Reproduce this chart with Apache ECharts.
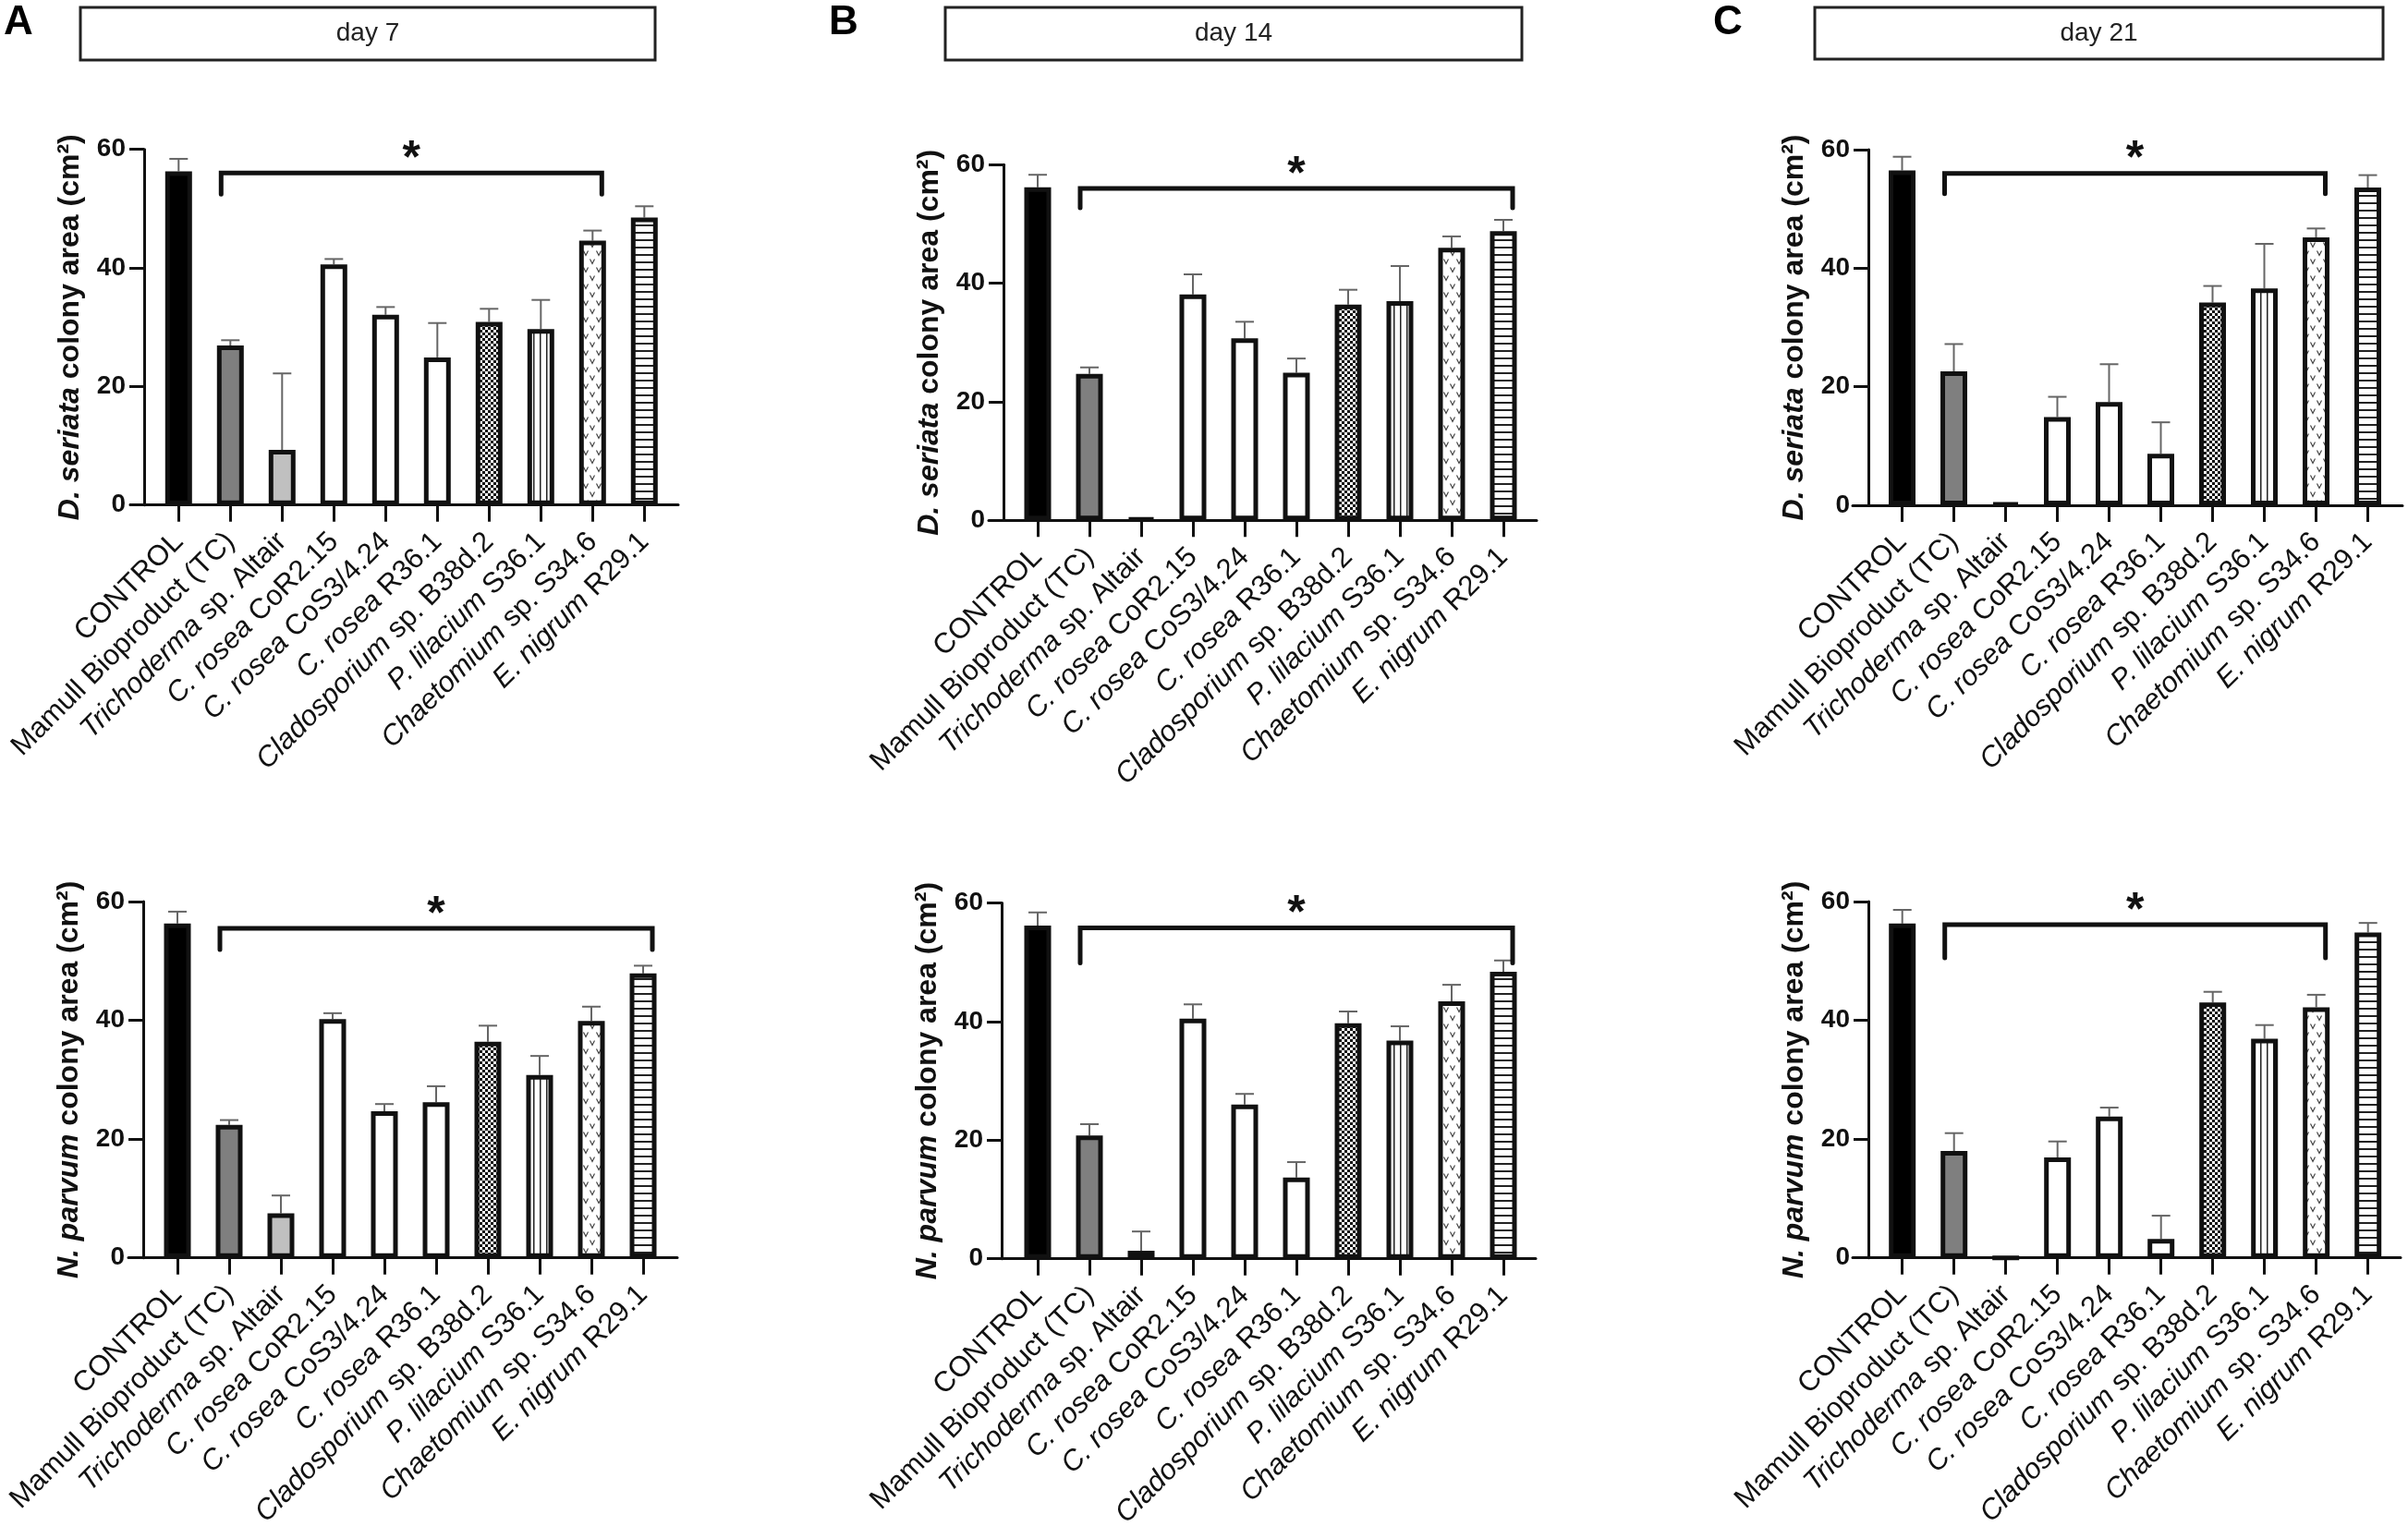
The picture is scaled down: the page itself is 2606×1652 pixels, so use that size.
<!DOCTYPE html>
<html>
<head>
<meta charset="utf-8">
<script src="https://cdn.jsdelivr.net/npm/echarts@6/dist/echarts.min.js"></script>
<style>
html,body{margin:0;padding:0;background:#fff;}
#chart{width:2606px;height:1652px;}
</style>
</head>
<body>
<div id="chart"></div>
<script>
// ---------------- DATA ----------------
const categories = ['CONTROL', 'Mamull Bioproduct (TC)', 'Trichoderma sp. Altair', 'C. rosea CoR2.15',
  'C. rosea CoS3/4.24', 'C. rosea R36.1', 'Cladosporium sp. B38d.2', 'P. lilacium S36.1',
  'Chaetomium sp. S34.6', 'E. nigrum R29.1'];
const italicParts = ['', '', 'Trichoderma', 'C. rosea', 'C. rosea', 'C. rosea', 'Cladosporium', 'P. lilacium', 'Chaetomium', 'E. nigrum'];
const dayTitles = ['day 7', 'day 14', 'day 21'];
const panelLetters = ['A', 'B', 'C'];
const pathogenNames = ['D. seriata', 'N. parvum'];
const yTickInterval = 20;
const yMax = 60;

// D. seriata colony area (cm2) - mean and upper SD
const dsDay7Mean  = [56.3, 26.9, 9.3, 40.6, 32.1, 24.9, 30.9, 29.7, 44.6, 48.5];
const dsDay7Sd    = [2.1, 0.9, 12.9, 0.9, 1.3, 5.8, 2.2, 4.9, 1.7, 1.9];
const dsDay14Mean = [56.2, 24.7, 0.3, 38.1, 30.7, 24.9, 36.4, 37.0, 46.0, 48.8];
const dsDay14Sd   = [2.1, 1.1, 0, 3.4, 2.8, 2.4, 2.5, 5.9, 1.9, 1.9];
const dsDay21Mean = [56.5, 22.6, 0.3, 14.9, 17.4, 8.7, 34.2, 36.6, 45.2, 53.6];
const dsDay21Sd   = [2.3, 4.6, 0, 3.4, 6.4, 5.3, 2.8, 7.5, 1.5, 2.1];
// N. parvum colony area (cm2)
const npDay7Mean  = [56.3, 22.4, 7.5, 40.2, 24.7, 26.2, 36.4, 30.8, 39.9, 47.9];
const npDay7Sd    = [2.0, 0.8, 3.0, 1.0, 1.2, 2.7, 2.7, 3.2, 2.4, 1.3];
const npDay14Mean = [56.2, 20.8, 1.35, 40.5, 26.0, 13.7, 39.7, 36.8, 43.4, 48.4];
const npDay14Sd   = [2.2, 1.9, 3.25, 2.4, 1.8, 2.6, 2.0, 2.4, 2.8, 1.9];
const npDay21Mean = [56.3, 18.0, 0, 16.9, 23.8, 3.2, 43.0, 36.9, 42.2, 54.8];
const npDay21Sd   = [2.3, 3.0, 0, 2.7, 1.5, 3.9, 1.8, 2.3, 2.1, 1.6];

// significance brackets: start index, end index, height (cm2)
const bracketStart = [1, 1, 1, 1, 1, 1];
const bracketEnd   = [8, 9, 8, 9, 9, 8];
const bracketLevel = [56.0, 56.0, 56.0, 55.5, 55.8, 56.1];
const bracketMark = '*';

const panelMeans = [dsDay7Mean, dsDay14Mean, dsDay21Mean, npDay7Mean, npDay14Mean, npDay21Mean];
const panelSds   = [dsDay7Sd, dsDay14Sd, dsDay21Sd, npDay7Sd, npDay14Sd, npDay21Sd];

// ---------------- LAYOUT (pixels) ----------------
const step = 56;
const layout = [
  {xStart:141,  c0:193.3,  xEnd:734,  yAxisX:156,  top:161.7, bottom:546.7,  drop:23},
  {xStart:1070, c0:1123,   xEnd:1663, yAxisX:1086, top:178.3, bottom:563.3,  drop:21},
  {xStart:2005, c0:2058.5, xEnd:2600, yAxisX:2022, top:162,   bottom:547,    drop:22},
  {xStart:139,  c0:192,    xEnd:733,  yAxisX:155,  top:976,   bottom:1361.7, drop:23},
  {xStart:1070, c0:1123,   xEnd:1662, yAxisX:1084, top:977.5, bottom:1362.7, drop:38},
  {xStart:2005, c0:2058.7, xEnd:2598, yAxisX:2022, top:976,   bottom:1361.7, drop:36}
];
const titleBoxes = [
  {x:87, y:8, w:622, h:57, letterX:4},
  {x:1023, y:8, w:624, h:57, letterX:897},
  {x:1964, y:8, w:615, h:56, letterX:1854}
];

// ---------------- PATTERNS ----------------
function makeCanvas(w, h, draw) {
  const c = document.createElement('canvas');
  c.width = w; c.height = h;
  const ctx = c.getContext('2d');
  ctx.fillStyle = '#fff'; ctx.fillRect(0, 0, w, h);
  draw(ctx);
  return c;
}
const checker = makeCanvas(6, 6, ctx => { ctx.fillStyle = '#111'; ctx.fillRect(0,0,3,3); ctx.fillRect(3,3,3,3); });
const vlines = makeCanvas(7, 8, ctx => { ctx.fillStyle = '#222'; ctx.fillRect(3, 0, 1.5, 8); });
const hlines = makeCanvas(8, 8, ctx => { ctx.fillStyle = '#222'; ctx.fillRect(0, 3, 8, 2); });
const vmarks = makeCanvas(14, 18, ctx => {
  ctx.strokeStyle = '#444'; ctx.lineWidth = 1.2;
  const v = (cx, cy) => { ctx.beginPath(); ctx.moveTo(cx-2.5, cy-2.5); ctx.lineTo(cx, cy+2.5); ctx.lineTo(cx+2.5, cy-2.5); ctx.stroke(); };
  v(4, 4); v(11, 13);
});
const fillStyles = [
  '#000000', '#7f7f7f', '#c0c0c0', '#ffffff', '#ffffff', '#ffffff',
  {image: checker, repeat: 'repeat'},
  {image: vlines, repeat: 'repeat'},
  {image: vmarks, repeat: 'repeat'},
  {image: hlines, repeat: 'repeat'}
];

// ---------------- OPTION ----------------
const FONT = "'Liberation Sans', Arial, Helvetica, sans-serif";
const idx = categories.map((_, i) => i);
const grids = [], xAxes = [], yAxes = [], series = [], graphics = [];

layout.forEach((L, k) => {
  const c9 = L.c0 + 9 * step;
  grids.push({left: L.xStart, top: L.top, width: L.xEnd - L.xStart, height: L.bottom - L.top,
              containLabel: false, outerBoundsMode: 'none'});
  xAxes.push({
    type: 'value', gridIndex: k,
    min: -(L.c0 - L.xStart) / step, max: 9 + (L.xEnd - c9) / step,
    axisLine: {show: true, onZero: false, lineStyle: {color: '#111', width: 3}},
    axisTick: {show: true, customValues: idx, length: 18, lineStyle: {color: '#111', width: 3}},
    splitLine: {show: false},
    axisLabel: {
      customValues: idx, rotate: 45, margin: 35, color: '#111',
      formatter: v => {
        const i = Math.round(v); const name = categories[i]; const it = italicParts[i];
        if (!it) return '{n|' + name + '}';
        return '{i|' + it + '}{n|' + name.slice(it.length) + '}';
      },
      rich: {
        n: {fontSize: 31, fontFamily: FONT, color: '#111'},
        i: {fontSize: 31, fontFamily: FONT, fontStyle: 'italic', color: '#111'}
      }
    }
  });
  yAxes.push({
    type: 'value', gridIndex: k, min: 0, max: yMax, interval: yTickInterval,
    offset: -(L.yAxisX - L.xStart),
    axisLine: {show: true, onZero: false, lineStyle: {color: '#111', width: 3}},
    axisTick: {show: true, length: 16, lineStyle: {color: '#111', width: 3}},
    splitLine: {show: false},
    axisLabel: {fontSize: 28, fontWeight: 'bold', fontFamily: FONT, color: '#111', margin: 20},
    name: '{i|' + pathogenNames[Math.floor(k / 3)] + '}{n| colony area (cm²)}',
    nameLocation: 'middle', nameRotate: 90, nameGap: 64,
    nameTextStyle: {
      rich: {
        i: {fontSize: 32, fontWeight: 'bold', fontStyle: 'italic', fontFamily: FONT, color: '#111'},
        n: {fontSize: 32, fontWeight: 'bold', fontFamily: FONT, color: '#111'}
      }
    }
  });
  const means = panelMeans[k], sds = panelSds[k];
  series.push({
    type: 'bar', xAxisIndex: k, yAxisIndex: k, barWidth: 29, animation: false,
    data: means.map((v, i) => ({value: [i, v], itemStyle: {color: fillStyles[i], borderColor: '#111', borderWidth: 5}})),
    z: 3
  });
  series.push({
    type: 'custom', xAxisIndex: k, yAxisIndex: k, animation: false, z: 2,
    encode: {x: 0, y: 1},
    data: means.map((v, i) => [i, v, sds[i]]),
    renderItem: (params, api) => {
      const i = api.value(0), m = api.value(1), s = api.value(2);
      if (!s) return null;
      const p0 = api.coord([i, m]), p1 = api.coord([i, m + s]);
      const st = {stroke: '#666', lineWidth: 2};
      return {type: 'group', children: [
        {type: 'line', shape: {x1: p0[0], y1: p0[1], x2: p1[0], y2: p1[1]}, style: st},
        {type: 'line', shape: {x1: p1[0] - 10, y1: p1[1], x2: p1[0] + 10, y2: p1[1]}, style: st}
      ]};
    }
  });
  series.push({
    type: 'custom', xAxisIndex: k, yAxisIndex: k, animation: false, z: 4,
    encode: {x: [0, 1], y: 2},
    data: [[bracketStart[k], bracketEnd[k], bracketLevel[k]]],
    renderItem: (params, api) => {
      const a = api.coord([api.value(0), api.value(2)]);
      const b = api.coord([api.value(1), api.value(2)]);
      const x1 = a[0] - 10, x2 = b[0] + 10, y = a[1], d = L.drop;
      return {type: 'group', children: [
        {type: 'polyline', shape: {points: [[x1, y + d], [x1, y], [x2, y], [x2, y + d]]},
         style: {stroke: '#111', lineWidth: 5, fill: null, lineCap: 'round', lineJoin: 'miter'}},
        {type: 'text', x: (x1 + x2) / 2, y: y - 14,
         style: {text: bracketMark, fontSize: 50, fontWeight: 'bold', fontFamily: FONT, fill: '#111',
                 align: 'center', verticalAlign: 'middle'}}
      ]};
    }
  });
});

titleBoxes.forEach((T, j) => {
  graphics.push({type: 'rect', shape: {x: T.x, y: T.y, width: T.w, height: T.h},
                 style: {fill: '#fff', stroke: '#222', lineWidth: 3}});
  graphics.push({type: 'text', x: T.x + T.w / 2, y: T.y + T.h / 2,
                 style: {text: dayTitles[j], fontSize: 28, fontFamily: FONT, fill: '#222', align: 'center', verticalAlign: 'middle'}});
  graphics.push({type: 'text', x: T.letterX, y: 25,
                 style: {text: panelLetters[j], fontSize: 44, fontWeight: 'bold', fontFamily: FONT, fill: '#000', align: 'left', verticalAlign: 'middle'}});
});

const chart = echarts.init(document.getElementById('chart'), null, {renderer: 'canvas', width: 2606, height: 1652});
chart.setOption({
  animation: false,
  backgroundColor: '#ffffff',
  grid: grids, xAxis: xAxes, yAxis: yAxes, series: series,
  graphic: graphics
});
</script>
</body>
</html>
